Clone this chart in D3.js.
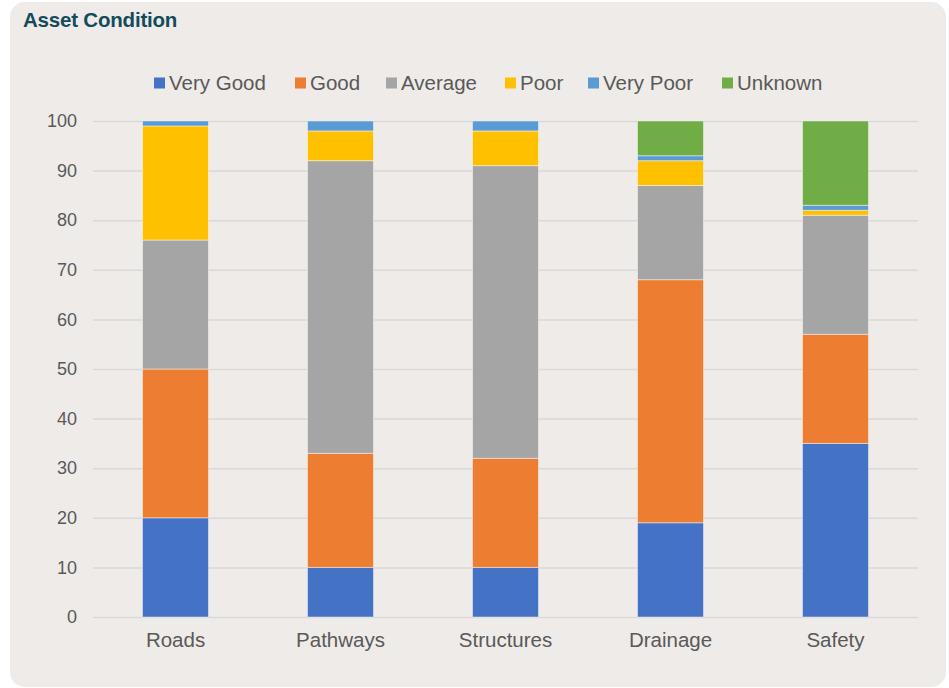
<!DOCTYPE html>
<html>
<head>
<meta charset="utf-8">
<script src="https://cdn.jsdelivr.net/npm/d3@7"></script>
<style>
  html, body { margin: 0; padding: 0; background: #ffffff; }
  svg { display: block; font-family: "Liberation Sans", Arial, sans-serif; }
</style>
</head>
<body>
<svg id="chart" width="949" height="688"></svg>
<script>
const categories = ["Roads", "Pathways", "Structures", "Drainage", "Safety"];
const seriesNames = ["Very Good", "Good", "Average", "Poor", "Very Poor", "Unknown"];
const veryGood = [20, 10, 10, 19, 35];
const good     = [30, 23, 22, 49, 22];
const average  = [26, 59, 59, 19, 24];
const poor     = [23, 6, 7, 5, 1];
const veryPoor = [1, 2, 2, 1, 1];
const unknown  = [0, 0, 0, 7, 17];
const yTicks = [0, 10, 20, 30, 40, 50, 60, 70, 80, 90, 100];
const colors = ["#4472C4", "#ED7D31", "#A5A5A5", "#FFC000", "#5B9BD5", "#70AD47"];

const seriesValues = [veryGood, good, average, poor, veryPoor, unknown];
const rows = categories.map((c, i) => {
  const r = { category: c };
  seriesNames.forEach((s, j) => { r[s] = seriesValues[j][i]; });
  return r;
});

const svg = d3.select("#chart");

// panel background
svg.append("rect")
  .attr("x", 10).attr("y", 2)
  .attr("width", 936).attr("height", 685)
  .attr("rx", 15).attr("ry", 15)
  .attr("fill", "#EFEBE8");

// title
svg.append("text")
  .attr("x", 23).attr("y", 27)
  .attr("font-size", 20.5).attr("font-weight", "bold")
  .attr("fill", "#134B5C")
  .attr("letter-spacing", -0.2)
  .text("Asset Condition");

const plot = { left: 93, right: 918, top: 121, bottom: 617 };

const x = d3.scaleBand()
  .domain(categories)
  .range([plot.left, plot.right])
  .paddingInner(0.6)
  .paddingOuter(0.3);

const y = d3.scaleLinear()
  .domain([0, 100])
  .range([plot.bottom, plot.top]);

// gridlines
const yAxis = d3.axisLeft(y).tickValues(yTicks).tickSize(-(plot.right - plot.left)).tickPadding(16);
const gy = svg.append("g")
  .attr("transform", `translate(${plot.left},0)`)
  .call(yAxis);
gy.select(".domain").remove();
gy.selectAll(".tick line").attr("stroke", "#D9D9D9").attr("stroke-width", 1.5);
gy.selectAll(".tick text")
  .attr("font-size", 18)
  .attr("fill", "#595959")
  .attr("font-family", "Liberation Sans, Arial, sans-serif");

// stacked bars
const stack = d3.stack().keys(seriesNames);
const stacked = stack(rows);

svg.append("g")
  .selectAll("g")
  .data(stacked)
  .join("g")
  .attr("fill", (d, i) => colors[i])
  .selectAll("rect")
  .data(d => d.filter(p => p[1] - p[0] > 0))
  .join("rect")
  .attr("x", d => x(d.data.category))
  .attr("width", x.bandwidth())
  .attr("y", d => y(d[1]))
  .attr("height", d => y(d[0]) - y(d[1]))
  .attr("stroke", "rgba(255,255,255,0.45)")
  .attr("stroke-width", 1);

// x axis labels
const xAxis = d3.axisBottom(x).tickSize(0).tickPadding(15);
const gx = svg.append("g")
  .attr("transform", `translate(0,${plot.bottom})`)
  .call(xAxis);
gx.select(".domain").remove();
gx.selectAll(".tick text")
  .attr("font-size", 20.5)
  .attr("fill", "#595959")
  .attr("font-family", "Liberation Sans, Arial, sans-serif");

// legend
const legendX = [154, 295, 386, 505, 588, 722];
const legend = svg.append("g");
seriesNames.forEach((s, i) => {
  const g = legend.append("g").attr("transform", `translate(${legendX[i]},0)`);
  g.append("rect")
    .attr("x", 0).attr("y", 77.5)
    .attr("width", 11).attr("height", 11)
    .attr("fill", colors[i]);
  g.append("text")
    .attr("x", 15).attr("y", 90)
    .attr("font-size", 20.5)
    .attr("fill", "#595959")
    .text(s);
});
</script>
</body>
</html>
